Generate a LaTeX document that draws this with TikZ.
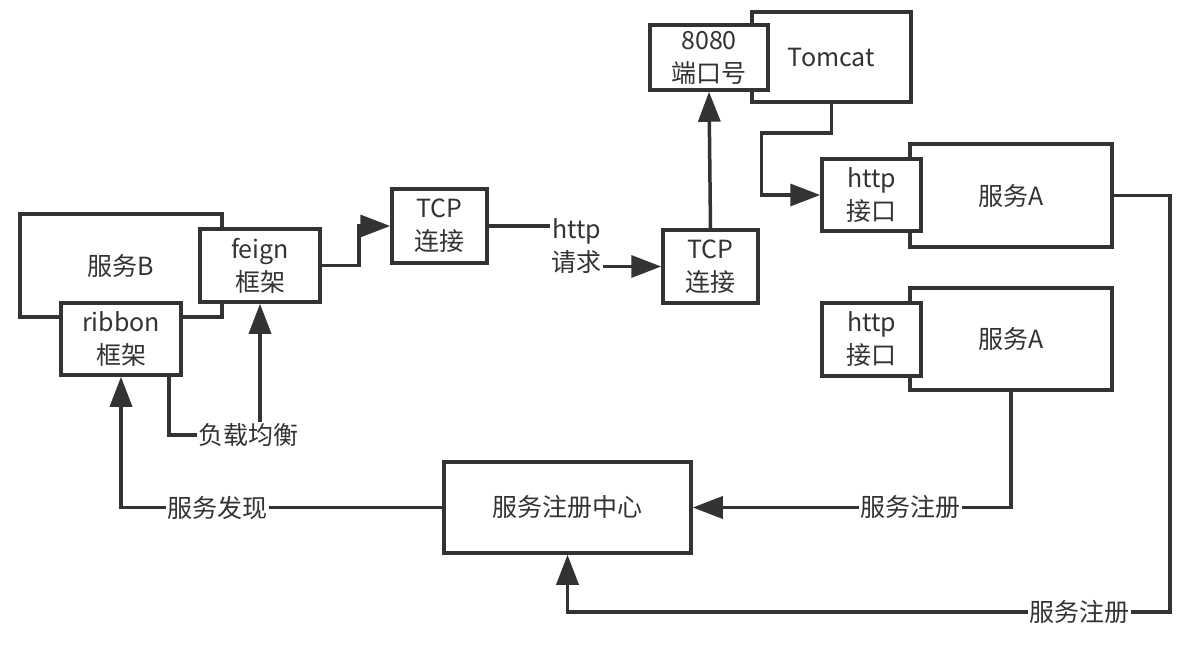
\documentclass[tikz,border=0pt]{standalone}
\usepackage{fontspec}
\setmainfont{Noto Sans CJK SC}
\usetikzlibrary{arrows.meta}
\definecolor{ink}{HTML}{333333}
\begin{document}
\begin{tikzpicture}[x=1pt, y=-1pt, line width=3.5pt, color=ink,
    box/.style={draw=ink, fill=white, text=ink, align=center, inner sep=0pt, font=\fontsize{25}{33}\selectfont},
    lbl/.style={fill=white, text=ink, align=center, inner sep=1.5pt, font=\fontsize{25}{33}\selectfont},
    arr/.style={-{Triangle[length=30pt,width=22pt]}}]
      \useasboundingbox (0,0) rectangle (1189,653);

      % Servizio B con feign e ribbon
      \node[box, minimum width=202pt, minimum height=103pt] (svcB) at (121,265.5) {服务B};
      \node[box, minimum width=120pt, minimum height=73pt] (feign) at (260,265.5) {feign\\框架};
      \node[box, minimum width=120pt, minimum height=72pt] (ribbon) at (121,339) {ribbon\\框架};

      % Connessioni TCP
      \node[box, minimum width=95pt, minimum height=74pt] (tcpA) at (439.5,226) {TCP\\连接};
      \node[box, minimum width=95pt, minimum height=73pt] (tcpB) at (710.5,266.5) {TCP\\连接};

      % Tomcat e porta
      \node[box, minimum width=159pt, minimum height=90pt] (tomcat) at (831.5,57) {Tomcat};
      \node[box, minimum width=118pt, minimum height=65pt] (port) at (709,57.5) {8080\\端口号};

      % Servizi A
      \node[box, minimum width=202pt, minimum height=103pt] (svcA1) at (1011,195.5) {服务A};
      \node[box, minimum width=99pt, minimum height=72pt] (httpA1) at (871.5,195) {http\\接口};
      \node[box, minimum width=202pt, minimum height=102pt] (svcA2) at (1011,339) {服务A};
      \node[box, minimum width=99pt, minimum height=73pt] (httpA2) at (871.5,339.5) {http\\接口};

      % Registro
      \node[box, minimum width=247pt, minimum height=91pt] (registry) at (567.5,507.5) {服务注册中心};
      \coordinate (regturn) at (1170,612);

      % Frecce
      \draw[arr] (feign.east) -- ++(37,0) |- (tcpA.west);
      \draw[arr] (tcpA.east) -- ++(88,0) |- (tcpB.west) node[lbl, pos=0.25] {http\\请求};
      \draw[arr] (tcpB.north) -- (port.south);
      \draw[arr] (tomcat.south) -- ++(0,29) -- ++(-70,0) |- (httpA1.west);
      \draw[arr] (svcA1.east) -| (regturn) -| (registry.south) node[lbl, pos=0.075] {服务注册};
      \draw[arr] (svcA2.south) |- (registry.east) node[lbl, pos=0.658] {服务注册};
      \draw[arr] (registry.west) -| (ribbon.south) node[lbl, pos=0.35] {服务发现};
      \draw[arr] ([xshift=-14pt]ribbon.south east) -- ++(0,58) -| (feign.south) node[lbl, pos=0.435] {负载均衡};
    \end{tikzpicture}
\end{document}
